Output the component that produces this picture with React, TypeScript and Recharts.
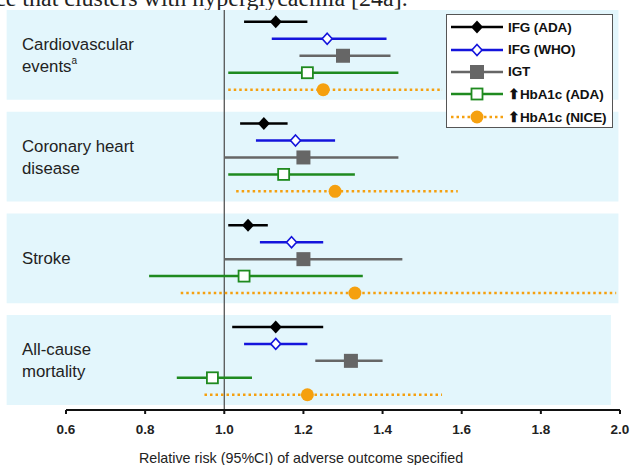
import React from "react";
import {
  ScatterChart,
  Scatter,
  XAxis,
  YAxis,
  ErrorBar,
  ReferenceArea,
  ReferenceLine,
  Legend,
} from "recharts";

// outcome groups (top to bottom)
const outcomes = ["Cardiovascular events", "Coronary heart disease", "Stroke", "All-cause mortality"];
const outcomeLabelLines = [["Cardiovascular", "events"], ["Coronary heart", "disease"], ["Stroke"], ["All-cause", "mortality"]];

const xTicks = [0.6, 0.8, 1.0, 1.2, 1.4, 1.6, 1.8, 2.0];

// relative risk + 95% CI, one value per outcome
const ifgAdaRR = [1.13, 1.1, 1.06, 1.13];
const ifgAdaLow = [1.05, 1.04, 1.01, 1.02];
const ifgAdaHigh = [1.21, 1.16, 1.11, 1.25];

const ifgWhoRR = [1.26, 1.18, 1.17, 1.13];
const ifgWhoLow = [1.12, 1.08, 1.09, 1.05];
const ifgWhoHigh = [1.41, 1.28, 1.25, 1.21];

const igtRR = [1.3, 1.2, 1.2, 1.32];
const igtLow = [1.19, 1.0, 1.0, 1.23];
const igtHigh = [1.42, 1.44, 1.45, 1.4];

const hba1cAdaRR = [1.21, 1.15, 1.05, 0.97];
const hba1cAdaLow = [1.01, 1.01, 0.81, 0.88];
const hba1cAdaHigh = [1.44, 1.33, 1.35, 1.07];

const hba1cNiceRR = [1.25, 1.28, 1.33, 1.21];
const hba1cNiceLow = [1.01, 1.03, 0.89, 0.95];
const hba1cNiceHigh = [1.55, 1.59, 1.99, 1.55];

// layout in y units: each group takes 6 units, band is 5.3 tall
const GROUP_STEP = 6;
const BAND_H = 5.3;
const ROW_OFFSET = 0.7;

type Kind = "diamond" | "diamondOpen" | "square" | "squareOpen" | "circle";

interface SeriesDef {
  name: string;
  arrow: boolean;
  color: string;
  kind: Kind;
  dash?: string;
  rr: number[];
  low: number[];
  high: number[];
}

const series: SeriesDef[] = [
  { name: "IFG (ADA)", arrow: false, color: "#000000", kind: "diamond", rr: ifgAdaRR, low: ifgAdaLow, high: ifgAdaHigh },
  { name: "IFG (WHO)", arrow: false, color: "#1414dc", kind: "diamondOpen", rr: ifgWhoRR, low: ifgWhoLow, high: ifgWhoHigh },
  { name: "IGT", arrow: false, color: "#666666", kind: "square", rr: igtRR, low: igtLow, high: igtHigh },
  { name: "HbA1c (ADA)", arrow: true, color: "#1f8a1f", kind: "squareOpen", rr: hba1cAdaRR, low: hba1cAdaLow, high: hba1cAdaHigh },
  { name: "HbA1c (NICE)", arrow: true, color: "#f5a00f", kind: "circle", dash: "2.5 3", rr: hba1cNiceRR, low: hba1cNiceLow, high: hba1cNiceHigh },
];

const SANS = "Arial, 'Liberation Sans', sans-serif";

function Marker({ kind, color, cx, cy }: { kind: Kind; color: string; cx: number; cy: number }) {
  switch (kind) {
    case "diamond":
      return <polygon points={`${cx},${cy - 6.5} ${cx + 6},${cy} ${cx},${cy + 6.5} ${cx - 6},${cy}`} fill={color} />;
    case "diamondOpen":
      return (
        <polygon
          points={`${cx},${cy - 5.5} ${cx + 5},${cy} ${cx},${cy + 5.5} ${cx - 5},${cy}`}
          fill="#fff"
          stroke={color}
          strokeWidth={1.6}
        />
      );
    case "square":
      return <rect x={cx - 7} y={cy - 7} width={14} height={14} fill={color} />;
    case "squareOpen":
      return <rect x={cx - 5.5} y={cy - 5.5} width={11} height={11} fill="#fff" stroke={color} strokeWidth={1.8} />;
    default:
      return <circle cx={cx} cy={cy} r={6.5} fill={color} />;
  }
}

const OutcomeTick = (props: any) => {
  const { y, payload } = props;
  const idx = Math.round((payload.value - BAND_H / 2) / GROUP_STEP);
  const lines = outcomeLabelLines[idx] || [];
  const start = y - ((lines.length - 1) * 22) / 2;
  return (
    <text x={22} y={start} fontSize={16.8} fill="#222" fontFamily={SANS} dominantBaseline="central">
      {lines.map((l, i) => (
        <tspan key={i} x={22} y={start + i * 22}>
          {l}
          {idx === 0 && i === 1 ? (
            <tspan fontSize={10} dy={-6}>
              a
            </tspan>
          ) : null}
        </tspan>
      ))}
    </text>
  );
};

const LegendBox = () => (
  <div
    style={{
      border: "1px solid #555",
      background: "#fff",
      width: 167,
      height: 114,
      boxSizing: "border-box",
      padding: "1px 0 0 4px",
      fontFamily: SANS,
      fontWeight: 700,
      fontSize: 13.5,
      color: "#111",
    }}
  >
    {series.map((s) => (
      <div key={s.name} style={{ display: "flex", alignItems: "center", height: 22.4 }}>
        <svg width={52} height={16} style={{ flex: "none" }}>
          <line x1={0} x2={52} y1={8} y2={8} stroke={s.color} strokeWidth={2.5} strokeDasharray={s.dash} />
          <Marker kind={s.kind} color={s.color} cx={26} cy={8} />
        </svg>
        <span style={{ marginLeft: 5, whiteSpace: "nowrap", letterSpacing: -0.1 }}>
          {s.arrow ? <span style={{ fontSize: 14 }}>⬆</span> : null}
          {s.name}
        </span>
      </div>
    ))}
  </div>
);

export default function App() {
  const seriesData = series.map((s, si) =>
    outcomes.map((o, i) => ({
      outcome: o,
      x: s.rr[i],
      y: i * GROUP_STEP + ROW_OFFSET + si,
      err: [s.rr[i] - s.low[i], s.high[i] - s.rr[i]],
    })),
  );

  return (
    <div style={{ position: "absolute", left: 0, top: 0, width: 631, height: 465, overflow: "hidden", background: "#fff" }}>
      {/* tail of the surrounding article text, clipped at the top like the source image */}
      <div
        style={{
          position: "absolute",
          left: -5,
          top: -14,
          fontFamily: "'Liberation Serif', 'Times New Roman', serif",
          fontSize: 24,
          lineHeight: "24px",
          color: "#222",
          whiteSpace: "nowrap",
        }}
      >
        ce that clusters with hyperglycaemia [24a].
      </div>
      <ScatterChart width={631} height={465} margin={{ top: 10, right: 11, bottom: 0, left: 0 }}>
        <XAxis
          type="number"
          dataKey="x"
          domain={[0.6, 2.0]}
          allowDataOverflow
          ticks={xTicks}
          tickFormatter={(v: number) => v.toFixed(1)}
          height={55}
          axisLine={{ stroke: "#111", strokeWidth: 2 }}
          tickLine={{ stroke: "#111", strokeWidth: 2 }}
          tickSize={4}
          tickMargin={10}
          tick={{ fill: "#222", fontSize: 13.5, fontWeight: 700, fontFamily: SANS }}
          label={{
            value: "Relative risk (95%CI) of adverse outcome specified",
            position: "insideBottom",
            offset: 2,
            dx: -42,
            fill: "#222",
            fontSize: 14.3,
            fontFamily: SANS,
          }}
        />
        <YAxis
          type="number"
          dataKey="y"
          reversed
          domain={[0, 23.6]}
          allowDataOverflow
          width={66}
          ticks={outcomes.map((_, i) => i * GROUP_STEP + BAND_H / 2)}
          axisLine={false}
          tickLine={false}
          tick={<OutcomeTick />}
        />
        {outcomes.map((o, i) => (
          <ReferenceArea
            key={o}
            x1={0.45}
            x2={i === outcomes.length - 1 ? 1.977 : 1.996}
            y1={i * GROUP_STEP}
            y2={i * GROUP_STEP + BAND_H}
            ifOverflow="visible"
            fill="#e3f6fc"
            fillOpacity={1}
            stroke="none"
          />
        ))}
        <ReferenceLine x={1} stroke="#555" strokeWidth={1.3} />
        {series.map((s, si) => (
          <Scatter
            key={s.name}
            name={s.name}
            data={seriesData[si]}
            fill={s.color}
            isAnimationActive={false}
            shape={(p: any) => <Marker kind={s.kind} color={s.color} cx={p.cx} cy={p.cy} />}
          >
            <ErrorBar
              dataKey="err"
              direction="x"
              width={0}
              stroke={s.color}
              strokeWidth={2.5}
              strokeDasharray={s.dash}
              isAnimationActive={false}
            />
          </Scatter>
        ))}
        <Legend
          layout="vertical"
          align="center"
          verticalAlign="middle"
          content={<LegendBox />}
          wrapperStyle={{ left: 446, top: 14, width: 167, height: 114 }}
        />
      </ScatterChart>
    </div>
  );
}
